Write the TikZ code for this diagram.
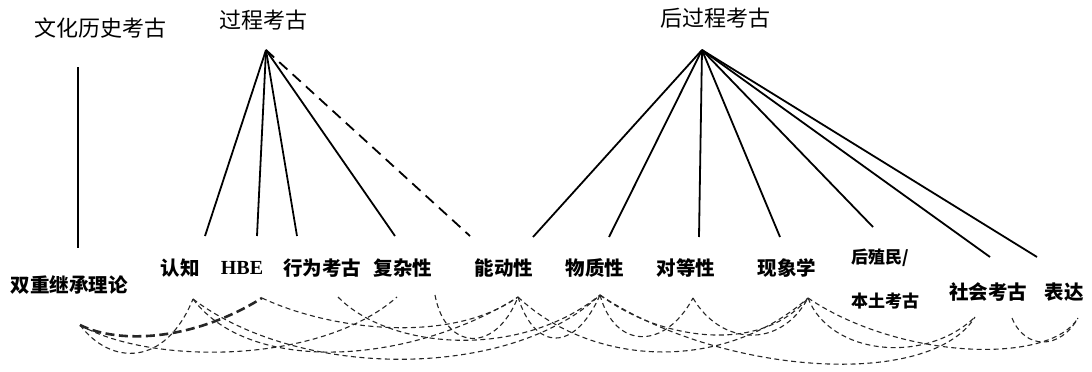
\documentclass[tikz,border=0pt]{standalone}
\usepackage{fontspec}
\newfontfamily\cjk{Noto Sans CJK SC}
\newfontfamily\serifb{Liberation Serif}
\begin{document}
\begin{tikzpicture}[x=1pt,y=-1pt,
  toplab/.style={font=\cjk\fontsize{22}{24}\selectfont, inner sep=0pt},
  botlab/.style={font=\cjk\bfseries\fontsize{19.5}{22}\selectfont, inner sep=0pt},
  smalllab/.style={font=\cjk\bfseries\fontsize{17}{19}\selectfont, inner sep=0pt, anchor=west},
  branch/.style={line width=1.8pt, black},
  branchdash/.style={line width=1.8pt, black, dash pattern=on 11pt off 7pt},
  link/.style={line width=1.1pt, black!85, dash pattern=on 5pt off 3.5pt},
  heavylink/.style={line width=2.6pt, black!85, dash pattern=on 9pt off 4.5pt},
]
\useasboundingbox (0,0) rectangle (1092,372);
% top labels
\node[toplab] (cha) at (100,28) {文化历史考古};
\node[toplab] (proc) at (263,20) {过程考古};
\node[toplab] (post) at (715,18) {后过程考古};
% bottom labels
\node[botlab] (dit) at (69,285) {双重继承理论};
\node[botlab] (cog) at (180,268) {认知};
\node[botlab, font=\serifb\bfseries\fontsize{20}{22}\selectfont] (hbe) at (242,268) {HBE};
\node[botlab] (beh) at (322,268) {行为考古};
\node[botlab] (cpx) at (403,268) {复杂性};
\node[botlab] (agn) at (504,268) {能动性};
\node[botlab] (mat) at (595,268) {物质性};
\node[botlab] (sym) at (686,268) {对等性};
\node[botlab] (phe) at (787,268) {现象学};
\node[smalllab] (pc1) at (851,258) {后殖民/};
\node[smalllab] (pc2) at (851,301) {本土考古};
\node[botlab] (soc) at (988,292) {社会考古};
\node[botlab] (exp) at (1064,292) {表达};
% culture history line
\coordinate (ch1) at (78,67);
\coordinate (ch2) at (78,248);
\draw[line width=1.3pt] (ch1) -- (ch2);
% processual branches
\coordinate (pa) at (266,50);
\coordinate (pe1) at (205,236);
\coordinate (pe2) at (257,236);
\coordinate (pe3) at (297,236);
\coordinate (pe4) at (395,236);
\coordinate (pe5) at (470,236);
\foreach \e in {pe1,pe2,pe3,pe4} \draw[branch] (pa) -- (\e);
\draw[branchdash] (pa) -- (pe5);
% post-processual branches
\coordinate (qa) at (702,50);
\coordinate (qe1) at (533,237);
\coordinate (qe2) at (609,237);
\coordinate (qe3) at (699,237);
\coordinate (qe4) at (780,237);
\coordinate (qe5) at (873,227);
\coordinate (qe6) at (990,257);
\coordinate (qe7) at (1037,257);
\foreach \e in {qe1,qe2,qe3,qe4,qe5,qe6,qe7} \draw[branch] (qa) -- (\e);
% link anchors
\coordinate (p0) at (80,325);
\coordinate (p1) at (193,299);
\coordinate (p2) at (262,298);
\coordinate (p3) at (338,297);
\coordinate (p4) at (397,297);
\coordinate (p4b) at (435,295);
\coordinate (p5) at (518,297);
\coordinate (p6) at (600,295);
\coordinate (p7) at (693,298);
\coordinate (p8) at (808,298);
\coordinate (p9) at (975,317);
\coordinate (p9b) at (1012,318);
\coordinate (p10) at (1078,318);
% links
\draw[heavylink] (p0) .. controls (120,345) and (195,340) .. (p2);
\draw[link] (p0) .. controls (110,365) and (165,368) .. (p1);
\draw[link] (p0) .. controls (150,365) and (320,365) .. (p4);
\draw[link] (p1) .. controls (300,380) and (510,380) .. (p6);
\draw[link] (p1) .. controls (250,375) and (410,365) .. (p5);
\draw[link] (p2) .. controls (330,330) and (450,345) .. (p5);
\draw[link] (p3) .. controls (390,350) and (520,360) .. (p6);
\draw[link] (p4b) .. controls (445,350) and (495,355) .. (p5);
\draw[link] (p5) .. controls (535,352) and (575,352) .. (p6);
\draw[link] (p5) .. controls (590,365) and (720,375) .. (p8);
\draw[link] (p6) .. controls (615,350) and (665,350) .. (p7);
\draw[link] (p6) .. controls (720,375) and (930,390) .. (p9);
\draw[link] (p6) .. controls (660,340) and (760,355) .. (p8);
\draw[link] (p7) .. controls (720,345) and (780,350) .. (p8);
\draw[link] (p8) .. controls (830,355) and (925,365) .. (p9);
\draw[link] (p8) .. controls (900,360) and (1050,365) .. (p10);
\draw[link] (p9b) .. controls (1025,350) and (1060,350) .. (p10);
\end{tikzpicture}
\end{document}
